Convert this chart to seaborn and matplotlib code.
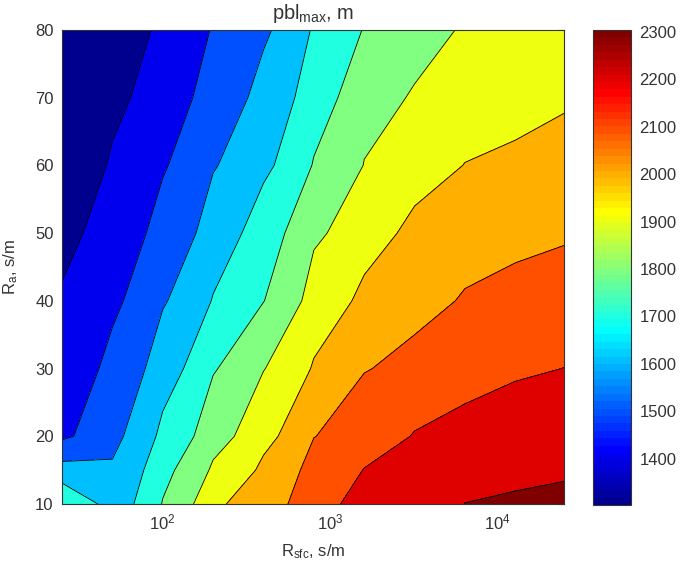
import numpy as np
import matplotlib
matplotlib.use("Agg")
import matplotlib.pyplot as plt
import matplotlib.colors as mcolors
import matplotlib.ticker as mticker
import seaborn as sns

# surface resistance (s/m), log axis
r_sfc = [25, 50, 100, 200, 400, 800, 1600, 3200, 6400, 12800, 25000]
# aerodynamic resistance (s/m)
r_a = [10, 15, 20, 30, 40, 50, 60, 70, 80]

# pbl_max (m), one row per r_a value
pbl_10 = [1797, 1645, 1805, 1985, 2060, 2160, 2250, 2278, 2300.5, 2302.5, 2304]
pbl_15 = [1640, 1612, 1775, 1916, 2022, 2140, 2203, 2255, 2285, 2296, 2298]
pbl_20 = [1484, 1575, 1727, 1863, 1972, 2098, 2156, 2206, 2235, 2252, 2263]
pbl_30 = [1445, 1528, 1654, 1793, 1897, 2010, 2096, 2130, 2162, 2188, 2201]
pbl_40 = [1410, 1482, 1592, 1706, 1798, 1945, 2025, 2070, 2110, 2132, 2145]
pbl_50 = [1375, 1449, 1535, 1647, 1756, 1885, 1960, 2030, 2055, 2075, 2090]
pbl_60 = [1335, 1412, 1492, 1594, 1680, 1807, 1903, 1955, 2003, 2022, 2040]
pbl_70 = [1320, 1378, 1455, 1543, 1636, 1755, 1870, 1909, 1936, 1963, 1988]
pbl_80 = [1302, 1360, 1417, 1508, 1585, 1712, 1806, 1865, 1912, 1930, 1945]

contour_levels = [1400, 1500, 1600, 1700, 1800, 1900, 2000, 2100, 2200, 2300]
cbar_ticks = [1400, 1500, 1600, 1700, 1800, 1900, 2000, 2100, 2200, 2300]

sns.set_style("white")
plt.rcParams['font.family'] = ['Liberation Sans', 'DejaVu Sans']
plt.rcParams['mathtext.fontset'] = 'custom'
plt.rcParams['mathtext.rm'] = 'Liberation Sans'
plt.rcParams['mathtext.it'] = 'Liberation Sans'
plt.rcParams['font.size'] = 12
txt = '#333333'


def matlab_jet(m=64):
    # same construction as matlab's jet.m
    n = int(np.ceil(m / 4))
    u = np.concatenate([np.arange(1, n + 1) / n, np.ones(n - 1), np.arange(n, 0, -1) / n])
    g = int(np.ceil(n / 2)) - (m % 4 == 1) + np.arange(1, len(u) + 1)
    r = g + n
    b = g - n
    J = np.zeros((m, 3))
    for col, idx in ((0, r), (1, g), (2, b)):
        ok = (idx >= 1) & (idx <= m)
        J[idx[ok] - 1, col] = u[ok]
    return mcolors.ListedColormap(J, name='matlab_jet')


Z = np.array([pbl_10, pbl_15, pbl_20, pbl_30, pbl_40, pbl_50, pbl_60, pbl_70, pbl_80])
X, Y = np.meshgrid(r_sfc, r_a)

vmin, vmax = Z.min(), Z.max()
jet = matlab_jet(64)
norm = mcolors.Normalize(vmin=vmin, vmax=vmax)

# matlab style: each band takes the colour of its lower level
levels = [vmin] + contour_levels + [vmax + 1]
fill_colors = [jet(norm(l)) for l in levels[:-1]]

fig = plt.figure(figsize=(6.82, 5.66), dpi=100)
ax = fig.add_axes([62 / 682, 1 - 504 / 566, 502 / 682, 474 / 566])
cax = fig.add_axes([593 / 682, 1 - 505 / 566, 38 / 682, 475 / 566])

ax.contourf(X, Y, Z, levels=levels, colors=fill_colors)
ax.contour(X, Y, Z, levels=contour_levels, colors='k', linewidths=0.6)

ax.set_xscale('log')
ax.set_xlim(25, 25000)
ax.set_ylim(10, 80)
ax.set_yticks([10, 20, 30, 40, 50, 60, 70, 80])
ax.xaxis.set_major_locator(mticker.LogLocator(base=10))
ax.xaxis.set_minor_locator(mticker.LogLocator(base=10, subs=np.arange(2, 10)))
ax.tick_params(which='both', direction='in', top=True, right=True, colors=txt)
ax.tick_params(which='major', length=5, width=0.8, pad=6)
ax.tick_params(which='minor', length=3, width=0.6)
for s in ax.spines.values():
    s.set_color(txt)
    s.set_linewidth(0.8)

ax.set_xlabel(r'R$_\mathregular{sfc}$, s/m', color=txt, labelpad=7)
ax.set_ylabel(r'R$_\mathregular{a}$, s/m', color=txt, labelpad=11)
ax.set_title(r'pbl$_\mathregular{max}$, m', color=txt, pad=8)

sm = plt.cm.ScalarMappable(norm=norm, cmap=jet)
cb = fig.colorbar(sm, cax=cax, ticks=cbar_ticks)
cb.outline.set_edgecolor(txt)
cb.outline.set_linewidth(0.8)
cax.tick_params(direction='in', left=True, right=True, length=5, width=0.8,
                colors=txt, pad=6)

fig.savefig('out.png', dpi=100)
